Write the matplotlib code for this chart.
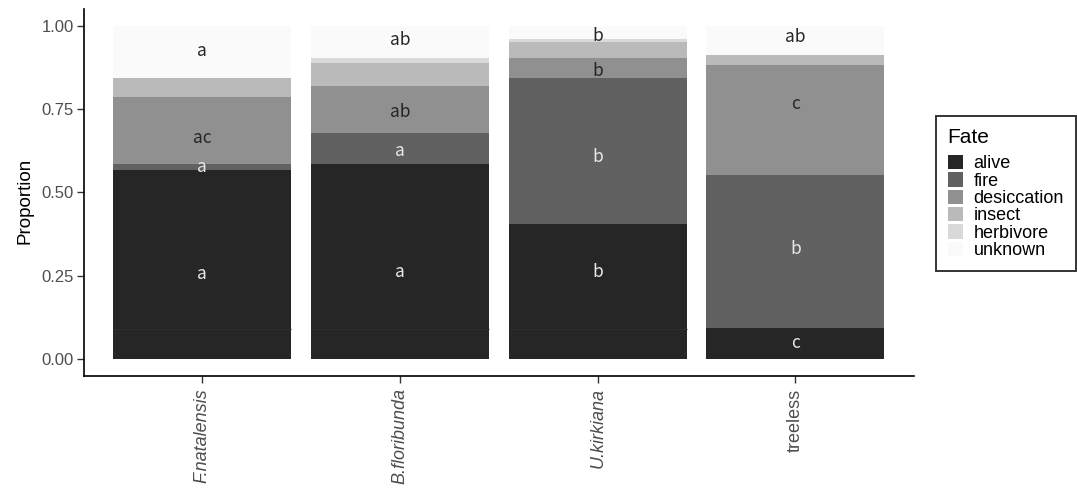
import numpy as np
import matplotlib
matplotlib.use("Agg")
import matplotlib.pyplot as plt
from matplotlib.patches import Patch

plt.rcParams["font.family"] = ["Liberation Sans", "DejaVu Sans"]

sites = ["F.natalensis", "B.floribunda", "U.kirkiana", "treeless"]
fates = ["alive", "fire", "desiccation", "insect", "herbivore", "unknown"]
fate_colors = ["#262626", "#616161", "#909090", "#bababa", "#d9d9d9", "#fafafa"]

# proportion of each fate per site
alive = [0.568, 0.584, 0.405, 0.093]
fire = [0.016, 0.093, 0.437, 0.460]
desiccation = [0.203, 0.141, 0.062, 0.328]
insect = [0.055, 0.071, 0.048, 0.032]
herbivore = [0.000, 0.015, 0.007, 0.000]
unknown = [0.158, 0.096, 0.041, 0.087]
alive_rule = 0.091

# significance letters: site index, baseline height, text, sits on dark fill
letters_site = [0, 0, 0, 0, 1, 1, 1, 1, 2, 2, 2, 2, 3, 3, 3, 3]
letters_y = [0.909, 0.647, 0.562, 0.240, 0.941, 0.727, 0.609, 0.248,
             0.954, 0.849, 0.592, 0.248, 0.952, 0.749, 0.316, 0.033]
letters_txt = ["a", "ac", "a", "a", "ab", "ab", "a", "a",
               "b", "b", "b", "b", "ab", "c", "b", "c"]
letters_dark = [False, False, True, True, False, False, True, True,
                False, False, True, True, False, False, True, True]

fig = plt.figure(figsize=(10.77, 4.94), dpi=100)
ax = fig.add_axes([0.0777, 0.2389, 0.771, 0.743])

x = np.arange(1, len(sites) + 1)
w = 0.9
bottom = np.zeros(len(sites))
for vals, col in zip([alive, fire, desiccation, insect, herbivore, unknown], fate_colors):
    v = np.array(vals)
    ax.bar(x, v, w, bottom=bottom, color=col, edgecolor="none", linewidth=0)
    bottom += v

# faint seam inside the alive segment
for xi, a in zip(x, alive):
    if a > alive_rule + 0.01:
        ax.plot([xi - w / 2, xi + w / 2], [alive_rule, alive_rule], color="#2e2e2e",
                lw=0.8, solid_capstyle="butt")

for si, yv, t, dark in zip(letters_site, letters_y, letters_txt, letters_dark):
    ax.text(x[si], yv, t, ha="center", va="baseline", fontsize=12.5,
            color="#e8e8e8" if dark else "#262626",
            family=["Noto Sans CJK JP", "DejaVu Sans"])

ax.set_xlim(0.4, 4.6)
ax.set_ylim(-0.05, 1.05)
ax.set_yticks([0, 0.25, 0.5, 0.75, 1.0])
ax.set_yticklabels(["0.00", "0.25", "0.50", "0.75", "1.00"])
ax.set_xticks(x)
ax.set_xticklabels(sites, rotation=90, va="top", ha="center")
for lab, s in zip(ax.get_xticklabels(), sites):
    lab.set_style("normal" if s == "treeless" else "italic")
    lab.set_fontsize(13)
ax.tick_params(axis="both", colors="#333333", labelcolor="#4d4d4d",
               length=5, width=1)
ax.tick_params(axis="y", labelsize=12, pad=2)
ax.tick_params(axis="x", pad=4)
ax.set_ylabel("Proportion", fontsize=13.5, color="black")
ax.yaxis.set_label_coords(-0.06, 0.477)

for side in ["top", "right"]:
    ax.spines[side].set_visible(False)
for side in ["left", "bottom"]:
    ax.spines[side].set_linewidth(1.2)
    ax.spines[side].set_color("black")

handles = [Patch(facecolor=c, edgecolor="none", label=f) for f, c in zip(fates, fate_colors)]
leg = fig.legend(handles=handles, title="Fate", loc="upper left",
                 bbox_to_anchor=(936 / 1077, 1 - 116 / 494),
                 fontsize=13, title_fontsize=15, frameon=True, fancybox=False,
                 handlelength=0.83, handleheight=0.83, handletextpad=0.6,
                 labelspacing=0.0, borderpad=0.65, borderaxespad=0)
leg._legend_box.align = "left"
leg._legend_box.sep = 6
leg.get_frame().set_edgecolor("black")
leg.get_frame().set_linewidth(1.4)

fig.savefig("out.png", dpi=100, facecolor="white")
